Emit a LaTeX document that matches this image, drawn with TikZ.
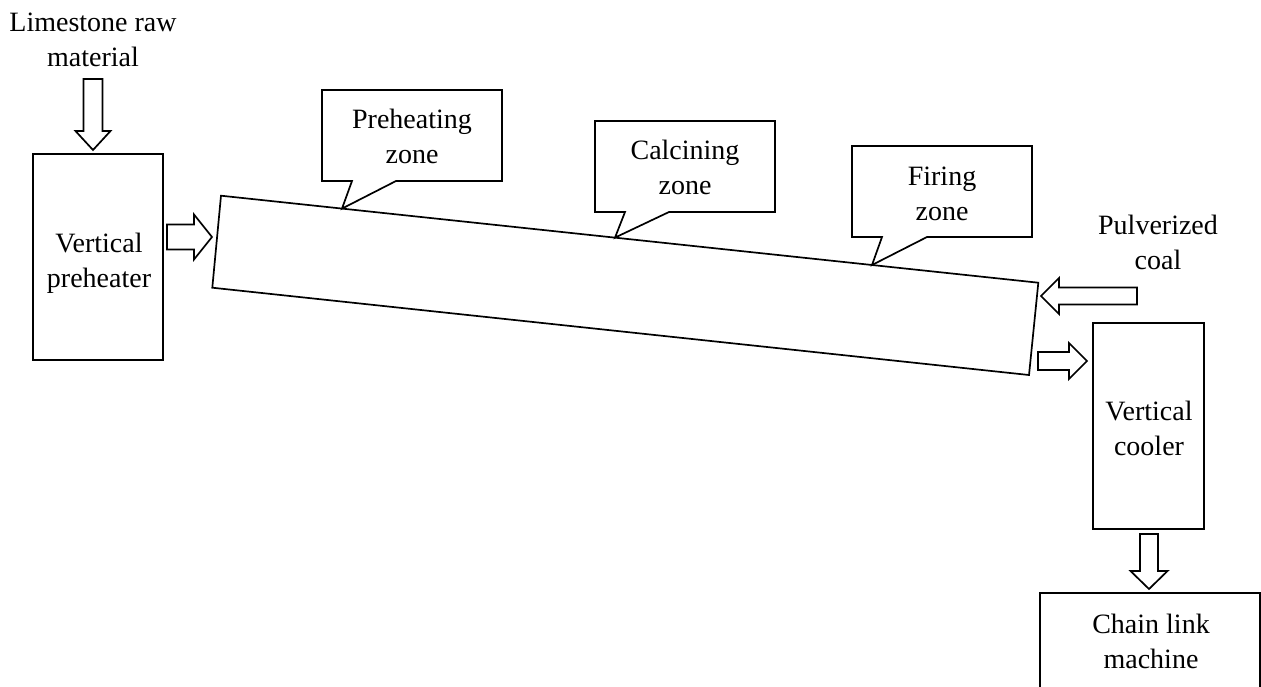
\documentclass[tikz,border=0pt]{standalone}
\usepackage{fontspec}
\setmainfont{Liberation Serif}
\begin{document}
\begin{tikzpicture}[x=0.5pt,y=-0.5pt,line width=0.85pt,line join=miter,
  lbl/.style={align=center,anchor=base,inner sep=0pt,font=\fontsize{14}{17.5}\selectfont},
  box/.style={draw,rectangle,inner sep=0pt},
  pics/blockarr/.style n args={4}{code={%
    % tip at the origin, body along -x: #1 length, #2 shaft width, #3 head width, #4 head length
    \draw (0,0) -- (-#4,#3/2) -- (-#4,#2/2) -- (-#1,#2/2) -- (-#1,-#2/2)
      -- (-#4,-#2/2) -- (-#4,-#3/2) -- cycle;}}]
\useasboundingbox (0,0) rectangle (1261,686);
\clip (0,0) rectangle (1261,686);

% process units
\node[box,minimum width=65pt,minimum height=103pt] (pre) at (98,257) {};
\node[box,minimum width=55.5pt,minimum height=103pt] (cool) at (1148.5,426) {};
\node[box,minimum width=110pt,minimum height=63.5pt] (chain) at (1150,656.5) {};

% rotary kiln (tilted)
\coordinate (k1) at (221,195.7);
\coordinate (k2) at (1038.3,282.7);
\coordinate (k3) at (1029,375);
\coordinate (k4) at (212.3,287.7);
\draw (k1) -- (k2) -- (k3) -- (k4) -- cycle;

% zone callouts pointing at the kiln shell
\coordinate (t1) at (342,208.6);
\coordinate (t2) at (615,237.6);
\coordinate (t3) at (872,265.0);
\draw (322,90) -- (502,90) -- (502,181) -- (396,181) -- (t1) -- (352,181) -- (322,181) -- cycle;
\draw (595,121) -- (775,121) -- (775,212) -- (669,212) -- (t2) -- (625,212) -- (595,212) -- cycle;
\draw (852,146) -- (1032,146) -- (1032,237) -- (927,237) -- (t3) -- (882,237) -- (852,237) -- cycle;

% material flow arrows
\pic[rotate=-90] at (93,150) {blockarr={71}{19}{35}{19}};
\pic at (212,237) {blockarr={45}{25}{45}{18}};
\pic[rotate=180] at (1041,296) {blockarr={96}{17}{36}{18}};
\pic at (1087,361) {blockarr={49}{18}{36}{18}};
\pic[rotate=-90] at (1149,589) {blockarr={55}{18}{37}{18}};

% labels (anchored at the baseline of the last line)
\node[lbl] (tlime) at (93,66) {Limestone raw\\material};
\node[lbl] (tpre) at (99,287) {Vertical\\preheater};
\node[lbl] (tph) at (412,163) {Preheating\\zone};
\node[lbl] (tcal) at (685,194) {Calcining\\zone};
\node[lbl] (tfir) at (942,220) {Firing\\zone};
\node[lbl] (tcoal) at (1158,269) {Pulverized\\coal};
\node[lbl] (tcool) at (1149,455) {Vertical\\cooler};
\node[lbl] (tchain) at (1151,668) {Chain link\\machine};
\end{tikzpicture}
\end{document}
